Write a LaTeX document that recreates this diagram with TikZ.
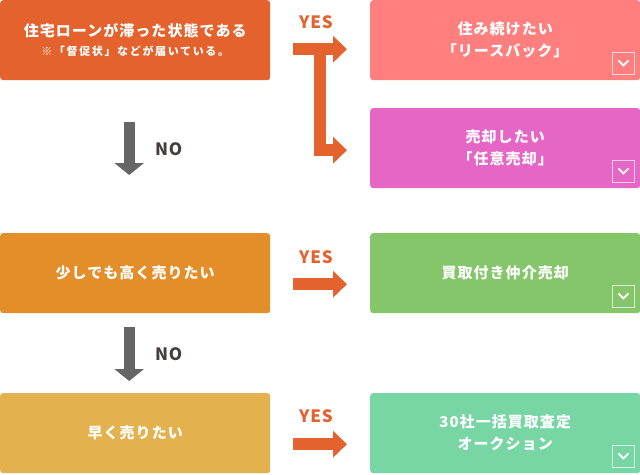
\documentclass[tikz,border=0pt]{standalone}
\usepackage{fontspec}
\setmainfont{Noto Sans CJK JP}[LetterSpace=7]
\newfontfamily\notefont{Noto Sans CJK JP}[LetterSpace=15]
\newfontfamily\answerfont{Noto Sans CJK JP}[LetterSpace=5]
\usetikzlibrary{arrows.meta}

\definecolor{loancol}{HTML}{E3622D}
\definecolor{leasecol}{HTML}{FF7F7F}
\definecolor{salecol}{HTML}{E666C5}
\definecolor{highcol}{HTML}{E48E2A}
\definecolor{fastcol}{HTML}{E3B14E}
\definecolor{buycol}{HTML}{85C66A}
\definecolor{auctioncol}{HTML}{78D6A5}
\definecolor{yescol}{HTML}{E3622D}
\definecolor{nocol}{HTML}{666666}
\definecolor{notext}{HTML}{463F3F}

\begin{document}
\begin{tikzpicture}[x=1pt,y=-1pt,font=\bfseries\fontsize{15}{22}\selectfont,
    box/.style={rectangle,rounded corners=3pt,minimum width=270pt,minimum height=80pt,
        anchor=north west,inner sep=0pt,text=white,align=center},
    yesarrow/.style={draw=yescol,line width=12pt,line join=miter,
        -{Triangle[length=14pt,width=26pt]}},
    noarrow/.style={draw=nocol,line width=11pt,-{Triangle[length=12pt,width=29pt]}},
    yeslabel/.style={text=yescol,font=\answerfont\bfseries\fontsize{17}{17}\selectfont},
    nolabel/.style={text=notext,font=\answerfont\bfseries\fontsize{17}{17}\selectfont}]

    \useasboundingbox (0,0) rectangle (640,474);

    % Questions
    \node [box,fill=loancol] (q1) at (0,0) {住宅ローンが滞った状態である\\[-3pt]
        {\notefont\fontsize{11}{12}\selectfont ※「督促状」などが届いている。}};
    \node [box,fill=highcol] (q2) at (0,233) {少しでも高く売りたい};
    \node [box,fill=fastcol] (q3) at (0,393) {早く売りたい};

    % Answers
    \node [box,fill=leasecol] (r1) at (370,0) {住み続けたい\\「リースバック」};
    \node [box,fill=salecol] (r2) at (370,108) {売却したい\\「任意売却」};
    \node [box,fill=buycol] (r3) at (370,233) {買取付き仲介売却};
    \node [box,fill=auctioncol] (r4) at (370,393) {30社一括買取査定\\オークション};

    % YES arrows
    \draw [yesarrow] ([shift={(23,9)}]q1.east) -- ([shift={(-23,9)}]r1.west);
    \draw [yesarrow] ([shift={(49.5,3)}]q1.east) |- ([shift={(-23,2)}]r2.west);
    \draw [yesarrow] ([shift={(23,11)}]q2.east) -- ([shift={(-23,11)}]r3.west);
    \draw [yesarrow] ([shift={(23,11)}]q3.east) -- ([shift={(-23,11)}]r4.west);
    \node [yeslabel] at ([shift={(45.5,-18)}]q1.east) {YES};
    \node [yeslabel] at ([shift={(45.5,-16)}]q2.east) {YES};
    \node [yeslabel] at ([shift={(45.5,-17)}]q3.east) {YES};

    % NO arrows
    \draw [noarrow] ([shift={(-6,42)}]q1.south) -- ([shift={(-6,-58)}]q2.north);
    \draw [noarrow] ([shift={(-6,14)}]q2.south) -- ([shift={(-6,-12)}]q3.north);
    \node [nolabel] at ([shift={(33.5,69)}]q1.south) {NO};
    \node [nolabel] at ([shift={(33.5,41)}]q2.south) {NO};

    % Detail buttons
    \foreach \r in {r1,r2,r3,r4} {
        \draw [white,opacity=0.7,line width=0.8pt]
            ([shift={(-28,-28)}]\r.south east) rectangle ([shift={(-6,-6)}]\r.south east);
        \draw [white,line width=1.8pt]
            ([shift={(-22,-20)}]\r.south east) -- ([shift={(-17,-15)}]\r.south east)
            -- ([shift={(-12,-20)}]\r.south east);
    }

\end{tikzpicture}
\end{document}
